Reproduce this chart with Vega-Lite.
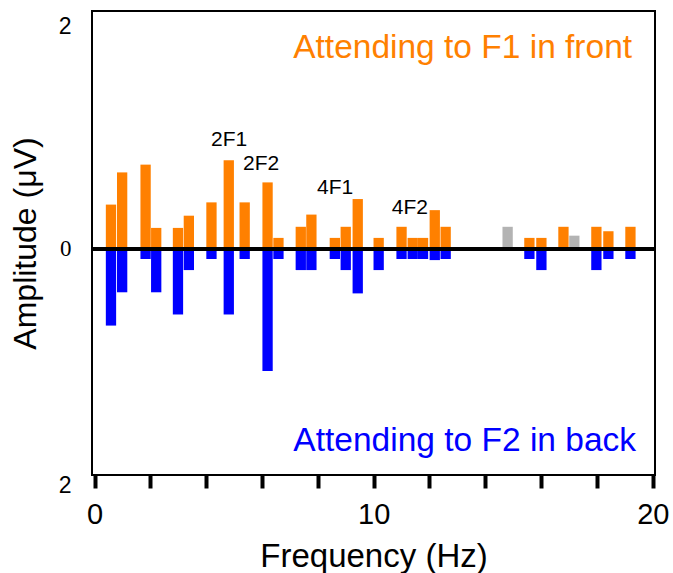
{
  "$schema": "https://vega.github.io/schema/vega-lite/v6.json",
  "width": 563,
  "height": 464,
  "autosize": "none",
  "padding": {"left": 92, "top": 11, "right": 18, "bottom": 98},
  "config": {"view": {"stroke": "black", "strokeWidth": 2}, "font": "Liberation Sans"},
  "datasets": {
    "bars": [
      {"f": 0.59, "v": 0.4, "series": "F1"},
      {"f": 0.99, "v": 0.69, "series": "F1"},
      {"f": 1.83, "v": 0.76, "series": "F1"},
      {"f": 2.21, "v": 0.19, "series": "F1"},
      {"f": 2.99, "v": 0.19, "series": "F1"},
      {"f": 3.38, "v": 0.3, "series": "F1"},
      {"f": 4.19, "v": 0.42, "series": "F1"},
      {"f": 4.81, "v": 0.8, "series": "F1"},
      {"f": 5.38, "v": 0.42, "series": "F1"},
      {"f": 6.2, "v": 0.6, "series": "F1"},
      {"f": 6.59, "v": 0.1, "series": "F1"},
      {"f": 7.39, "v": 0.2, "series": "F1"},
      {"f": 7.77, "v": 0.31, "series": "F1"},
      {"f": 8.61, "v": 0.1, "series": "F1"},
      {"f": 9.0, "v": 0.2, "series": "F1"},
      {"f": 9.43, "v": 0.45, "series": "F1"},
      {"f": 10.18, "v": 0.1, "series": "F1"},
      {"f": 11.0, "v": 0.2, "series": "F1"},
      {"f": 11.4, "v": 0.1, "series": "F1"},
      {"f": 11.77, "v": 0.1, "series": "F1"},
      {"f": 12.19, "v": 0.35, "series": "F1"},
      {"f": 12.58, "v": 0.2, "series": "F1"},
      {"f": 15.58, "v": 0.1, "series": "F1"},
      {"f": 16.01, "v": 0.1, "series": "F1"},
      {"f": 16.8, "v": 0.2, "series": "F1"},
      {"f": 17.98, "v": 0.2, "series": "F1"},
      {"f": 18.41, "v": 0.16, "series": "F1"},
      {"f": 19.2, "v": 0.2, "series": "F1"},
      {"f": 0.59, "v": -0.69, "series": "F2"},
      {"f": 0.99, "v": -0.39, "series": "F2"},
      {"f": 1.83, "v": -0.09, "series": "F2"},
      {"f": 2.21, "v": -0.39, "series": "F2"},
      {"f": 2.99, "v": -0.59, "series": "F2"},
      {"f": 3.38, "v": -0.19, "series": "F2"},
      {"f": 4.19, "v": -0.09, "series": "F2"},
      {"f": 4.81, "v": -0.59, "series": "F2"},
      {"f": 5.38, "v": -0.09, "series": "F2"},
      {"f": 6.2, "v": -1.1, "series": "F2"},
      {"f": 6.59, "v": -0.09, "series": "F2"},
      {"f": 7.39, "v": -0.19, "series": "F2"},
      {"f": 7.77, "v": -0.19, "series": "F2"},
      {"f": 8.61, "v": -0.09, "series": "F2"},
      {"f": 9.0, "v": -0.19, "series": "F2"},
      {"f": 9.43, "v": -0.4, "series": "F2"},
      {"f": 10.18, "v": -0.19, "series": "F2"},
      {"f": 11.0, "v": -0.09, "series": "F2"},
      {"f": 11.4, "v": -0.09, "series": "F2"},
      {"f": 11.77, "v": -0.09, "series": "F2"},
      {"f": 12.19, "v": -0.1, "series": "F2"},
      {"f": 12.58, "v": -0.09, "series": "F2"},
      {"f": 15.58, "v": -0.09, "series": "F2"},
      {"f": 16.01, "v": -0.19, "series": "F2"},
      {"f": 17.98, "v": -0.19, "series": "F2"},
      {"f": 18.41, "v": -0.09, "series": "F2"},
      {"f": 19.2, "v": -0.09, "series": "F2"},
      {"f": 14.8, "v": 0.2, "series": "other"},
      {"f": 17.19, "v": 0.12, "series": "other"}
    ],
    "harmonics": [
      {"f": 4.82, "v": 0.98, "label": "2F1"},
      {"f": 5.97, "v": 0.77, "label": "2F2"},
      {"f": 8.62, "v": 0.55, "label": "4F1"},
      {"f": 11.3, "v": 0.37, "label": "4F2"}
    ],
    "conditions": [
      {"f": 19.26, "v": 1.81, "label": "Attending to F1 in front", "series": "F1"},
      {"f": 19.4, "v": -1.73, "label": "Attending to F2 in back", "series": "F2"}
    ]
  },
  "layer": [
    {
      "data": {"name": "bars"},
      "mark": {"type": "bar", "width": 10.3},
      "encoding": {
        "x": {
          "field": "f", "type": "quantitative",
          "scale": {"domain": [-0.09, 20.08], "nice": false, "zero": false, "padding": 0},
          "axis": {
            "values": [0, 2, 4, 6, 8, 10, 12, 14, 16, 18, 20],
            "labelExpr": "datum.value % 10 === 0 ? datum.label : ''",
            "domain": false, "grid": false,
            "tickSize": 13, "tickWidth": 4, "tickColor": "black",
            "labelFontSize": 29, "labelColor": "black", "labelPadding": 12, "labelFlush": false,
            "title": "Frequency (Hz)", "titleFontSize": 33, "titleFontWeight": "normal",
            "titleColor": "black", "titlePadding": 11
          }
        },
        "y": {
          "field": "v", "type": "quantitative",
          "scale": {"domain": [-2.036, 2.144], "nice": false, "padding": 0},
          "axis": {
            "values": [-2, 0, 2],
            "labelExpr": "datum.value === 0 ? '0' : '2'",
            "ticks": false, "domain": false, "grid": false,
            "labelFontSize": 23, "labelColor": "black", "labelPadding": 21,
            "labelOffset": {"condition": {"test": "datum.value < 0", "value": 14}, "value": 0},
            "labelFont": {"condition": {"test": "datum.value === 0", "value": "Liberation Serif"}, "value": "Liberation Sans"},
            "title": "Amplitude (μV)", "titleFontSize": 32, "titleFontWeight": "normal",
            "titleColor": "black", "titlePadding": 16
          }
        },
        "color": {
          "field": "series", "type": "nominal",
          "scale": {"domain": ["F1", "F2", "other"], "range": ["#FF8000", "#0000FF", "#B3B3B3"]},
          "legend": null
        }
      }
    },
    {
      "data": {"values": [{}]},
      "mark": {"type": "rule", "color": "black", "strokeWidth": 4},
      "encoding": {"y": {"datum": 0}}
    },
    {
      "data": {"name": "harmonics"},
      "mark": {"type": "text", "fontSize": 21, "color": "black", "baseline": "middle"},
      "encoding": {
        "x": {"field": "f", "type": "quantitative"},
        "y": {"field": "v", "type": "quantitative"},
        "text": {"field": "label"}
      }
    },
    {
      "data": {"name": "conditions"},
      "mark": {"type": "text", "fontSize": 33.5, "align": "right", "baseline": "middle"},
      "encoding": {
        "x": {"field": "f", "type": "quantitative"},
        "y": {"field": "v", "type": "quantitative"},
        "text": {"field": "label"},
        "color": {"field": "series", "type": "nominal", "legend": null}
      }
    }
  ]
}
